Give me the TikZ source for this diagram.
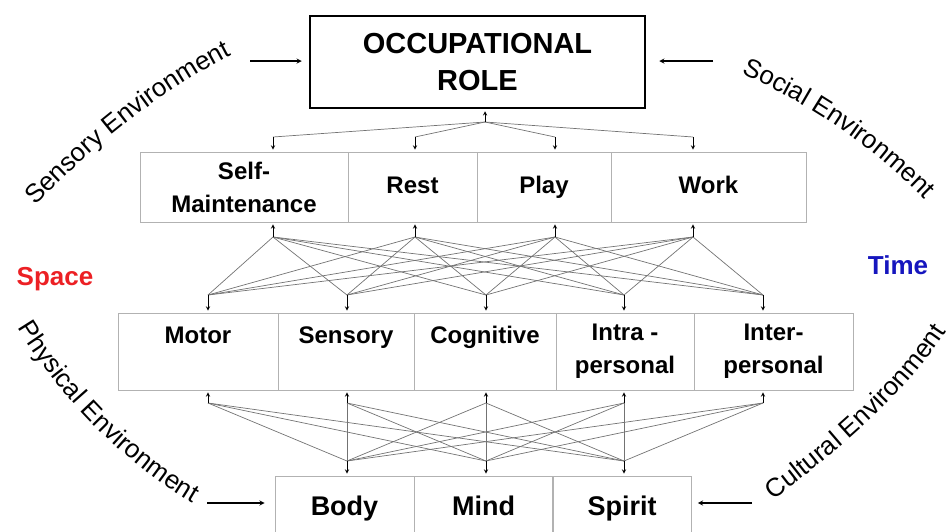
\documentclass[tikz,border=0pt]{standalone}
\usepackage{fontspec}
\setmainfont{Liberation Sans}
\usetikzlibrary{decorations.text}
\definecolor{spacered}{RGB}{236,32,36}
\definecolor{timeblue}{RGB}{22,22,190}

\begin{document}
\begin{tikzpicture}[x=1pt,y=-1pt,>=stealth,
    cell/.style={draw=black!30,line width=0.8pt,inner sep=0pt,align=center,
      font=\fontsize{24}{33}\selectfont\bfseries},
    link/.style={black!55,line width=0.7pt},
    tick/.style={->,line width=0.9pt,shorten >=2pt},
    envarrow/.style={->,line width=1.3pt},
    envtext/.style={decorate,decoration={text along path,text align=center,
      text={|\fontsize{26}{30}\selectfont|#1}}}]
  \useasboundingbox (0,0) rectangle (951,531);

  \node[draw,line width=2.5pt,minimum width=335pt,minimum height=92pt,align=center,
    font=\fontsize{29}{37}\selectfont\bfseries] (role) at (477.5,62) {OCCUPATIONAL\\ROLE};

  % activities, components, self
  \foreach \n/\cx/\w/\txt in {self/244/208/{Self-\\Maintenance},rest/412.5/129/Rest\strut,
      play/544/134/Play\strut,work/708.5/195/Work\strut}
    \node[cell,minimum width=\w pt,minimum height=70pt] (\n) at (\cx,187) {\txt};
  \foreach \n/\cx/\w/\txt in {motor/198/160/{Motor\\~},sensory/346/136/{Sensory\\~},
      cognitive/485/142/{Cognitive\\~},intra/625/138/{Intra -\\personal},
      inter/773.5/159/{Inter-\\personal}}
    \node[cell,minimum width=\w pt,minimum height=77pt] (\n) at (\cx,351.5) {\txt};
  \foreach \n/\cx/\txt in {body/344.5/Body,mind/483.5/Mind,spirit/622/Spirit}
    \node[cell,minimum width=139pt,minimum height=64pt,
      font=\fontsize{27}{36}\selectfont\bfseries] (\n) at (\cx,508) {\txt\strut};

  % fan points
  \coordinate (rolefan) at (485,122);
  \foreach \x [count=\i] in {273,415,555,693} {
    \coordinate (atop\i) at (\x,137);
    \coordinate (abot\i) at (\x,237);
  }
  \foreach \x [count=\j] in {208,347,486,624,763} {
    \coordinate (ctop\j) at (\x,295);
    \coordinate (cbot\j) at (\x,403);
  }
  \foreach \x [count=\k] in {347,486,624}
    \coordinate (btop\k) at (\x,461);

  % links
  \foreach \i in {1,...,4} {
    \draw[link] (rolefan) -- (atop\i);
    \foreach \j in {1,...,5}
      \draw[link] (abot\i) -- (ctop\j);
  }
  \foreach \j in {1,...,5}
    \foreach \k in {1,...,3}
      \draw[link] (cbot\j) -- (btop\k);

  % small arrows
  \draw[tick] (rolefan) -- (rolefan |- role.south);
  \foreach \i in {1,...,4} {
    \draw[tick] (atop\i) -- (atop\i |- self.north);
    \draw[tick] (abot\i) -- (abot\i |- self.south);
  }
  \foreach \j in {1,...,5} {
    \draw[tick] (ctop\j) -- (ctop\j |- motor.north);
    \draw[tick] (cbot\j) -- (cbot\j |- motor.south);
  }
  \foreach \k in {1,...,3}
    \draw[tick] (btop\k) -- (btop\k |- body.north);

  % environments
  \coordinate (sensfrom) at (250,61);
  \coordinate (socfrom) at (713,61);
  \coordinate (physfrom) at (207,503);
  \coordinate (cultfrom) at (752,503);
  \draw[envarrow,shorten >=7pt] (sensfrom) -- (sensfrom -| role.west);
  \draw[envarrow,shorten >=13pt] (socfrom) -- (socfrom -| role.east);
  \draw[envarrow,shorten >=10pt] (physfrom) -- (physfrom -| body.west);
  \draw[envarrow,shorten >=6pt] (cultfrom) -- (cultfrom -| spirit.east);

  \path[envtext=Sensory Environment] (25,216) .. controls (70,170) and (140,100) .. (245,48);
  \path[envtext=Social Environment] (727,67) .. controls (780,90) and (860,130) .. (936,211);
  \path[envtext=Physical Environment] (8,311) .. controls (40,370) and (110,460) .. (209,512);
  \path[envtext=Cultural Environment] (761,510) .. controls (808,472) and (897,412) .. (955,318);

  \node[text=spacered,font=\fontsize{26}{30}\selectfont\bfseries] (space) at (55,279) {Space};
  \node[text=timeblue,font=\fontsize{26}{30}\selectfont\bfseries] (time) at (898,265) {Time};
\end{tikzpicture}
\end{document}
